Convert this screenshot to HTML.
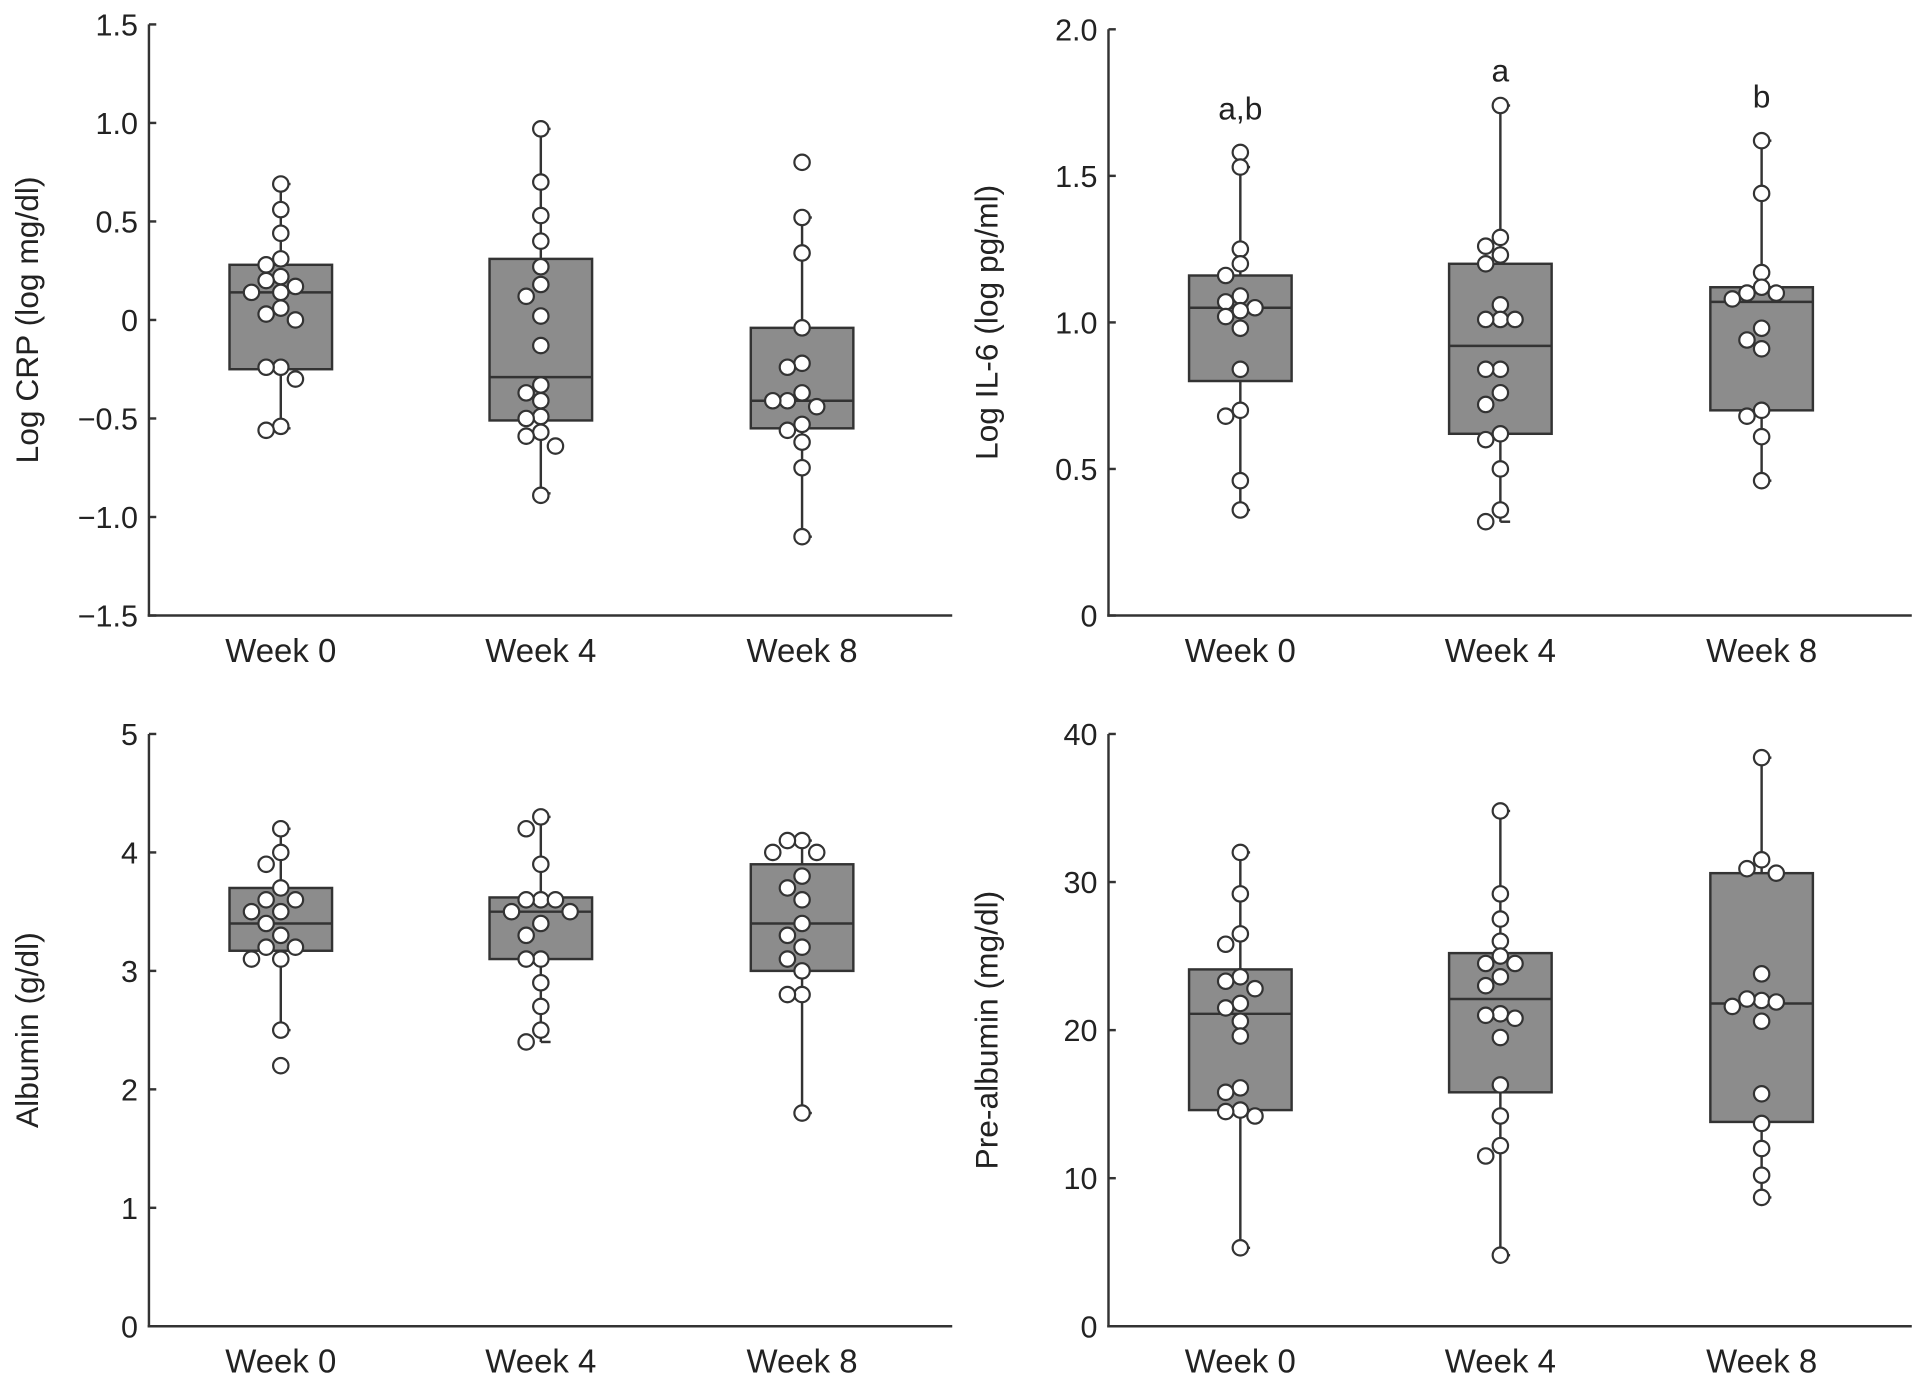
<!DOCTYPE html>
<html><head><meta charset="utf-8"><style>
html,body{margin:0;padding:0;background:#fff;}
svg{display:block;font-family:"Liberation Sans",Arial,sans-serif;}
</style></head><body>
<svg id="fig" width="1913" height="1391" viewBox="0 0 1567 1139" preserveAspectRatio="none" xmlns="http://www.w3.org/2000/svg"></svg>
<script>
const categories = ["Week 0","Week 4","Week 8"];
// CRP
const crpTicks = [1.5,1.0,0.5,0,-0.5,-1.0,-1.5];
const crpTickLabels = ["1.5","1.0","0.5","0","\u22120.5","\u22121.0","\u22121.5"];
const crpBoxes = [[-0.25,0.14,0.28,-0.55,0.69],[-0.51,-0.29,0.31,-0.88,0.97],[-0.55,-0.41,-0.04,-1.10,0.52]];
const crpPoints0 = [0.69,0.56,0.44,0.31,0.28,0.22,0.20,0.17,0.14,0.14,0.06,0.03,0,-0.24,-0.24,-0.30,-0.54,-0.56];
const crpPoints4 = [0.97,0.70,0.53,0.40,0.27,0.18,0.12,0.02,-0.13,-0.33,-0.37,-0.41,-0.49,-0.50,-0.57,-0.59,-0.64,-0.89];
const crpPoints8 = [0.80,0.52,0.34,-0.04,-0.22,-0.24,-0.37,-0.41,-0.44,-0.41,-0.53,-0.56,-0.62,-0.75,-1.10];
// IL-6
const il6Ticks = [2.0,1.5,1.0,0.5,0];
const il6TickLabels = ["2.0","1.5","1.0","0.5","0"];
const il6Boxes = [[0.80,1.05,1.16,0.36,1.53],[0.62,0.92,1.20,0.32,1.74],[0.70,1.07,1.12,0.46,1.62]];
const il6Points0 = [1.58,1.53,1.25,1.20,1.16,1.09,1.07,1.05,1.04,1.02,0.98,0.84,0.70,0.68,0.46,0.36];
const il6Points4 = [1.74,1.29,1.26,1.23,1.20,1.06,1.01,1.01,1.01,0.84,0.84,0.76,0.72,0.62,0.60,0.50,0.36,0.32];
const il6Points8 = [1.62,1.44,1.17,1.12,1.10,1.10,1.08,0.98,0.94,0.91,0.70,0.68,0.61,0.46];
const il6Letters = ["a,b","a","b"];
const il6LetterY = [1.73,1.86,1.77];
// Albumin
const albTicks = [5,4,3,2,1,0];
const albTickLabels = ["5","4","3","2","1","0"];
const albBoxes = [[3.17,3.4,3.7,2.5,4.2],[3.1,3.5,3.62,2.4,4.3],[3.0,3.4,3.9,1.8,4.1]];
const albPoints0 = [4.2,4.0,3.9,3.7,3.6,3.6,3.5,3.5,3.4,3.3,3.2,3.2,3.1,3.1,2.5,2.2];
const albPoints4 = [4.3,4.2,3.9,3.6,3.6,3.6,3.5,3.5,3.4,3.3,3.1,3.1,2.9,2.7,2.5,2.4];
const albPoints8 = [4.1,4.1,4.0,4.0,3.8,3.7,3.6,3.4,3.3,3.2,3.1,3.0,2.8,2.8,1.8];
// Pre-albumin
const preTicks = [40,30,20,10,0];
const preTickLabels = ["40","30","20","10","0"];
const preBoxes = [[14.6,21.1,24.1,5.3,32],[15.8,22.1,25.2,4.8,34.8],[13.8,21.8,30.6,8.7,38.4]];
const prePoints0 = [32,29.2,26.5,25.8,23.6,23.3,22.8,21.8,21.5,20.6,19.6,16.1,15.8,14.6,14.5,14.2,5.3];
const prePoints4 = [34.8,29.2,27.5,26.0,25.0,24.5,24.5,23.6,23.0,21.1,21.0,20.8,19.5,16.3,14.2,12.2,11.5,4.8];
const prePoints8 = [38.4,31.5,30.9,30.6,23.8,22.0,22.1,21.9,21.6,20.6,15.7,13.7,12.0,10.2,8.7];

const NS="http://www.w3.org/2000/svg";
const svg=document.getElementById('fig');
function mk(tag,attrs,parent){const e=document.createElementNS(NS,tag);for(const k in attrs)e.setAttribute(k,attrs[k]);(parent||svg).appendChild(e);return e;}

function panel(o){
  const g=mk('g',{});
  
  
  const y=v=>o.y0+(v-o.vmin)/(o.vmax-o.vmin)*(o.y1-o.y0);
  const catX=[o.ax+108,o.ax+321,o.ax+535];
  const st={stroke:'#333','stroke-width':2,fill:'none'};
  const yl=mk('line',Object.assign({x1:o.ax,y1:o.y1,x2:o.ax,y2:o.y0+1},st),g);
  
  
  const xl=mk('line',Object.assign({x1:o.ax-1,y1:o.y0,x2:o.ax+658,y2:o.y0},st),g);
  
  
  o.ticks.forEach((t,i)=>{
    mk('line',Object.assign({x1:o.ax,x2:o.ax+6,y1:y(t),y2:y(t)},st),g);
    const tx=mk('text',{x:o.ax-9,y:y(t)+9,'text-anchor':'end','font-size':25,fill:'#222'},g);
    tx.textContent=o.labels[i];
    
    
  });
  categories.forEach((c,i)=>{
    const tx=mk('text',{x:catX[i],y:o.y0+38,'text-anchor':'middle','font-size':27,fill:'#222'},g);
    tx.textContent=c;
    
    
  });
  const cy=(o.y0+o.y1)/2;
  const tt=mk('text',{x:0,y:0,'text-anchor':'middle','font-size':26,fill:'#222',transform:`translate(${o.ax-91},${cy}) rotate(-90)`},g);
  tt.textContent=o.title;
  
  
  o.boxes.forEach((b,i)=>{
    const x=catX[i];
    const w=mk('line',Object.assign({x1:x,x2:x,y1:y(b[3]),y2:y(b[4])},st),g);
    
    
    mk('line',Object.assign({x1:x,x2:x+8,y1:y(b[3]),y2:y(b[3])},st),g);
    mk('line',Object.assign({x1:x,x2:x+8,y1:y(b[4]),y2:y(b[4])},st),g);
    const r=mk('rect',{x:x-42,y:y(b[2]),width:84,height:y(b[0])-y(b[2]),fill:'#8c8c8c',stroke:'#333','stroke-width':2},g);
    
    
    mk('line',Object.assign({x1:x-42,x2:x+42,y1:y(b[1]),y2:y(b[1])},st),g);
  });
  o.points.forEach((pts,i)=>{
    const placed=[];
    pts.forEach(v=>{
      const py=y(v);let off=0;
      const cands=[0,-12,12,-24,24,-36,36];
      for(const c of cands){if(placed.every(p=>Math.hypot(p[0]-c,p[1]-py)>=11.5)){off=c;break;}}
      placed.push([off,py]);
      const cc=mk('circle',{cx:catX[i]+off,cy:py,r:6.3,fill:'#fff',stroke:'#333','stroke-width':1.8},g);
      
      
    });
  });
  if(o.letters){o.letters.forEach((l,i)=>{
    const tx=mk('text',{x:catX[i],y:y(o.letterY[i])+9,'text-anchor':'middle','font-size':26,fill:'#222'},g);
    tx.textContent=l;
    
    
  });}
}
panel({name:'crp-panel',ax:122,y0:504,y1:20,vmin:-1.5,vmax:1.5,ticks:crpTicks,labels:crpTickLabels,boxes:crpBoxes,points:[crpPoints0,crpPoints4,crpPoints8],title:'Log CRP (log mg/dl)'});
panel({name:'il6-panel',ax:908,y0:504,y1:24,vmin:0,vmax:2,ticks:il6Ticks,labels:il6TickLabels,boxes:il6Boxes,points:[il6Points0,il6Points4,il6Points8],title:'Log IL-6 (log pg/ml)',letters:il6Letters,letterY:il6LetterY});
panel({name:'albumin-panel',ax:122,y0:1086,y1:601,vmin:0,vmax:5,ticks:albTicks,labels:albTickLabels,boxes:albBoxes,points:[albPoints0,albPoints4,albPoints8],title:'Albumin (g/dl)'});
panel({name:'prealbumin-panel',ax:908,y0:1086,y1:601,vmin:0,vmax:40,ticks:preTicks,labels:preTickLabels,boxes:preBoxes,points:[prePoints0,prePoints4,prePoints8],title:'Pre-albumin (mg/dl)'});
</script>
</body></html>
